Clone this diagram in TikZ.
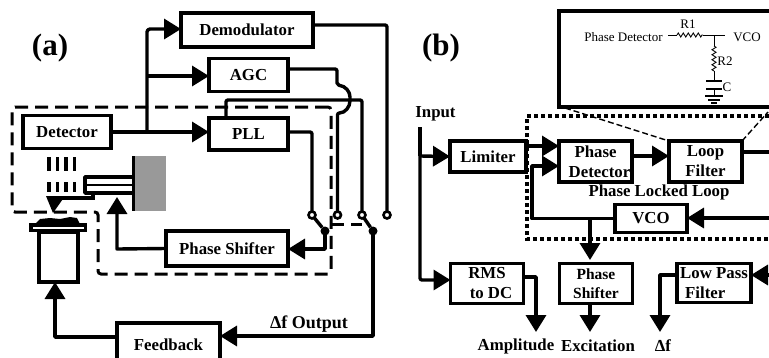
\documentclass[tikz,border=0pt]{standalone}
\usepackage{fontspec}
\setmainfont{Liberation Serif}
\usetikzlibrary{arrows.meta,decorations.pathmorphing}
\tikzset{
  wire/.style={line width=3.4pt,line join=round},
  arr/.style={wire,-{Triangle[length=17pt,width=20pt]}},
  box/.style={draw,line width=3.6pt,inner sep=0pt,outer sep=0pt,align=center,fill=white,
    font=\fontsize{16.8}{20}\selectfont\bfseries},
  lab/.style={inner sep=0pt,outer sep=0pt,font=\fontsize{16.8}{20}\selectfont\bfseries},
  big/.style={inner sep=0pt,outer sep=0pt,font=\fontsize{31}{34}\selectfont\bfseries},
  small/.style={inner sep=0pt,outer sep=0pt,font=\fontsize{13}{15}\selectfont},
  term/.style={circle,draw,line width=2.6pt,fill=white,minimum size=7pt,inner sep=0pt,outer sep=0pt},
  pole/.style={circle,fill=black,minimum size=9pt,inner sep=0pt,outer sep=0pt},
  dashbox/.style={line width=3pt,dash pattern=on 13pt off 7pt,rounded corners=3pt},
  dotbox/.style={line width=4pt,dash pattern=on 4pt off 3pt},
  zoomline/.style={line width=1.4pt,dash pattern=on 6pt off 3pt},
  thin wire/.style={line width=.9pt},
  zig/.style={thin wire,decorate,decoration={zigzag,segment length=5pt,amplitude=2pt}},
  beam/.style={line width=3.6pt}
}
\begin{document}
\begin{tikzpicture}[x=1pt,y=-1pt]
\useasboundingbox (0,0) rectangle (769,357);
% ---------- (a)
\node[big] (la) at (50,48) {(a)};
\draw[dashbox] (331,107) -- (12,107) -- (12,212) -- (98,212) -- (98,274) -- (331,274) -- cycle;
\draw[line width=3pt,dash pattern=on 13pt off 7pt] (331,224) -- (362,224);
\node[box,minimum width=132pt,minimum height=34pt] (demod) at (247,30) {Demodulator};
\node[box,minimum width=79pt,minimum height=33pt] (agc) at (248.5,75) {AGC};
\node[box,minimum width=88pt,minimum height=33pt] (det) at (67,132) {Detector};
\node[box,minimum width=79pt,minimum height=32pt] (pll) at (248.5,134) {PLL};
\node[box,minimum width=122pt,minimum height=35pt] (ps) at (227,248.5) {Phase Shifter};
\node[box,minimum width=103pt,minimum height=44pt] (fb) at (168.5,345) {Feedback};
\node[term] (t1) at (312,215) {};
\node[term] (t2) at (337.5,215) {};
\node[term] (t3) at (362,215) {};
\node[term] (t4) at (387,215) {};
\node[pole] (p1) at (325,231) {};
\node[pole] (p2) at (373,231) {};
\coordinate (j1) at (147,132);
\draw[arr] (det.east |- j1) -- (pll.west |- j1);
\draw[wire,rounded corners=3pt,-{Triangle[length=17pt,width=20pt]}] (j1) -- (147,29) -- (demod.west |- 0,29);
\draw[arr] (147,76) -- (agc.west |- 0,76);
\draw[wire,rounded corners=2pt] (demod.east |- 0,25) -- (387,25) -- (t4.north);
\draw[wire,rounded corners=2pt] (agc.east |- 0,69) -- (337,69) -- (337,85)
  .. controls (346,86) and (350,92) .. (350,99) .. controls (350,107) and (345,113) .. (337.5,113) -- (t2.north);
\draw[wire,rounded corners=2pt] (226,118) -- (226,100) -- (362,100) -- (t3.north);
\draw[wire,rounded corners=2pt] (pll.east |- 0,132) -- (312,132) -- (t1.north);
\draw[wire] (t1) -- (p1);
\draw[wire] (t3) -- (p2);
\draw[arr] (p1.center) -- (325,249) -- (ps.east |- 0,249);
\draw[arr] (p2.center) -- (373,336) -- (fb.east |- 0,336);
\node[lab,font=\fontsize{18}{20}\selectfont\bfseries] (df) at (309,324) {Δf Output};
% instrument
\fill[gray!80!white] (132,156) rectangle (166,211);
\node[fill=black,inner sep=0pt,minimum width=3.5pt,minimum height=55pt] (base) at (133.5,183.5) {};
\coordinate (cant) at (117,197);
\draw[wire] (132,177) -- (85,177) -- (85,193) -- (132,193);
\draw[line width=1.6pt] (132,185) -- (85,185);
\draw[line width=4pt] (60,198) -- (93,198) -- (93,193);
\fill (46,196) -- (65,196) -- (53,213) -- cycle;
\foreach \x in {49,57.5,66,74.5}{
  \draw[beam] (\x,157) -- (\x,171);
  \draw[beam] (\x,182) -- (\x,192);
}
\node[box,minimum width=39pt,minimum height=50pt] (tube) at (58.5,257) {};
\fill (29,223) rectangle (87,232);
\fill[white] (33,227) rectangle (84,228.5);
\fill (35,224) -- (40,219) -- (50,218) -- (60,219) -- (70,217) -- (77,218) -- (80,224) -- cycle;
\draw[arr] (ps.west) -- (117,249) -- (cant);
\draw[arr] (fb.west |- 0,337) -- (55,337) -- (tube.south -| 55,0);
% ---------- (b)
\node[big] (lb) at (441,48) {(b)};
\coordinate (insTL) at (559,11);
\coordinate (insBL) at (559,107);
\coordinate (insTR) at (769,11);
\coordinate (insBR) at (769,107);
\draw[line width=3.6pt] (insTR) -- (insTL) -- (insBL) -- (insBR);
\node[small] (cpd) at (623.5,37) {Phase Detector};
\node[small] (cvco) at (747,37) {VCO};
\node[small] (cr1) at (688,24) {R1};
\node[small] (cr2) at (725,61) {R2};
\node[small] (cc) at (727,87) {C};
\coordinate (ja) at (668,35);
\coordinate (jb) at (677,35);
\coordinate (jc) at (703,35);
\coordinate (jd) at (714,35);
\coordinate (je) at (725,35);
\coordinate (ra) at (714,46);
\coordinate (rb) at (714,71);
\coordinate (cp) at (714,81);
\draw[thin wire] (ja) -- (jb);
\draw[zig] (jb) -- (jc);
\draw[thin wire] (jc) -- (je);
\draw[thin wire] (jd) -- (ra);
\draw[zig] (ra) -- (rb);
\draw[thin wire] (rb) -- (cp);
\draw[line width=1.2pt] (706,81) -- (722,81) (706,89) -- (722,89);
\draw[thin wire] (714,89) -- (714,96);
\draw[line width=1.1pt] (705,96) -- (723,96) (708,100) -- (720,100) (711,103) -- (717,103);
\node[box,minimum width=76pt,minimum height=31pt] (lim) at (488,156.5) {Limiter};
\node[box,minimum width=73pt,minimum height=41pt] (pdet) at (595.5,161.5) {Phase\\\hspace*{8pt}Detector};
\node[box,minimum width=73pt,minimum height=41pt] (lf) at (705.5,161.5) {Loop\\Filter};
\node[lab] (pl) at (659,192) {Phase Locked Loop};
\node[box,minimum width=72pt,minimum height=28pt] (vco) at (651,218.5) {VCO};
\node[box,minimum width=73pt,minimum height=40pt] (rms) at (487,283.5) {RMS\\\hspace*{8pt}to DC};
\node[box,minimum width=73pt,minimum height=40pt,font=\fontsize{15.5}{19}\selectfont\bfseries] (ps2) at (596,283.5) {Phase\\Shifter};
\node[box,minimum width=74pt,minimum height=39pt,align=left] (lp) at (714,283) {Low Pass\\\hspace*{5pt}Filter};
\draw[dotbox] (769,116) -- (527,116) -- (527,239) -- (769,239);
\draw[zoomline] (565,108) -- (lf.north west);
\draw[zoomline] (lf.north east) -- (768,112);
\node[lab] (inp) at (435.5,114) {Input};
\node[lab] (amp) at (516,346) {Amplitude};
\node[lab] (exc) at (598,346) {Excitation};
\node[lab] (dfb) at (663,346) {Δf};
\coordinate (in) at (420,127);
\draw[wire] (in) -- (420,156);
\draw[arr] (420,156) -- (lim.west);
\draw[arr,rounded corners=2pt] (420,156) -- (420,280) -- (rms.west |- 0,280);
\draw[arr] (lim.east |- 0,146) -- (pdet.west |- 0,146);
\draw[arr] (pdet.east |- 0,156) -- (lf.west |- 0,156);
\coordinate (lfr) at (769,152);
\draw[wire] (lf.east |- lfr) -- (lfr);
\coordinate (vr) at (769,218);
\draw[arr] (vr) -- (vco.east |- vr);
\draw[arr] (vco.west) -- (532,218.5) -- (532,166) -- (pdet.west |- 0,166);
\draw[arr] (590,218.5) -- (590,260);
\draw[arr] (rms.east |- 0,277) -- (536,277) -- (536,332);
\draw[arr] (ps2.south -| 590,0) -- (590,332);
\draw[arr] (lp.west |- 0,275) -- (660,275) -- (660,332);
\coordinate (lpr) at (769,275);
\draw[arr] (lpr) -- (lp.east |- lpr);
\end{tikzpicture}
\end{document}
